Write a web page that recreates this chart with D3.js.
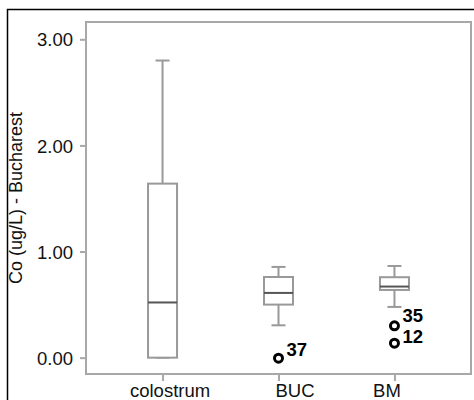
<!DOCTYPE html>
<html><head><meta charset="utf-8">
<script src="https://cdn.jsdelivr.net/npm/d3@7"></script>
<style>html,body{margin:0;padding:0;background:#fff;overflow:hidden}</style>
</head><body>
<svg id="c" width="474" height="400"></svg>
<script>
// ---- data ----
const categories = ["colostrum", "BUC", "BM"];
const whiskerLow  = [0.00, 0.305, 0.478];
const q1          = [0.00, 0.50, 0.638];
const median      = [0.52, 0.61, 0.67];
const q3          = [1.64, 0.76, 0.758];
const whiskerHigh = [2.80, 0.855, 0.864];
const outlierGroup = ["BUC", "BM", "BM"];
const outlierValue = [-0.005, 0.30, 0.136];
const outlierLabel = ["37", "35", "12"];
const yTicks = [0, 1, 2, 3];
const yTickLabels = ["0.00", "1.00", "2.00", "3.00"];
const yTitle = "Co (ug/L) - Bucharest";

// ---- layout (not data) ----
const outlierLabelDx = [8, 8, 8];
const outlierLabelDy = [-2.5, -3.5, -0.5];
const xLabelDx = [7, 16, -8];
const FONT = "Liberation Sans, Arial, sans-serif";

const svg = d3.select("#c");
const L = 86, R = 471, T = 22, B = 374;
const x = d3.scalePoint().domain(categories).range([L, R]).padding(0.66);
const y = d3.scaleLinear().domain([-0.154, 3.163]).range([B, T]);

// outer black frame
svg.append("rect").attr("x", 7.5).attr("y", 9.5).attr("width", 480).attr("height", 400)
  .attr("fill", "none").attr("stroke", "#000").attr("stroke-width", 1.5);

// plot frame
svg.append("rect").attr("x", L).attr("y", T).attr("width", R - L).attr("height", B - T)
  .attr("fill", "none").attr("stroke", "#a8a8a8").attr("stroke-width", 2);

// y axis
const yAxis = d3.axisLeft(y).tickValues(yTicks).tickSize(6).tickPadding(7)
  .tickFormat((d, i) => yTickLabels[i]);
const gy = svg.append("g").attr("transform", `translate(${L},0)`).call(yAxis);
gy.select(".domain").remove();
gy.selectAll(".tick line").attr("stroke", "#a8a8a8").attr("stroke-width", 2);
gy.selectAll(".tick text").attr("font-family", FONT)
  .attr("font-size", 18.5).attr("fill", "#111").attr("dy", "0.36em");

// x axis
const xAxis = d3.axisBottom(x).tickSize(7).tickPadding(3);
const gx = svg.append("g").attr("transform", `translate(0,${B})`).call(xAxis);
gx.select(".domain").remove();
gx.selectAll(".tick line").attr("stroke", "#a8a8a8").attr("stroke-width", 2);
gx.selectAll(".tick text").attr("font-family", FONT)
  .attr("font-size", 18.5).attr("fill", "#111").attr("dy", "0.7em")
  .attr("dx", (d, i) => xLabelDx[i]);

// y title
svg.append("text").attr("transform", `translate(22,198) rotate(-90)`)
  .attr("text-anchor", "middle").attr("font-family", FONT)
  .attr("font-size", 18).attr("fill", "#111").text(yTitle);

// boxes
const bw = 29, cw = 14;
const boxes = categories.map((c, i) => ({c, lo: whiskerLow[i], q1: q1[i], med: median[i], q3: q3[i], hi: whiskerHigh[i]}));
const g = svg.append("g");
boxes.forEach(b => {
  const cx = x(b.c);
  const gg = g.append("g").attr("stroke", "#999").attr("stroke-width", 2).attr("fill", "none");
  gg.append("line").attr("x1", cx).attr("x2", cx).attr("y1", y(b.q3)).attr("y2", y(b.hi));
  gg.append("line").attr("x1", cx).attr("x2", cx).attr("y1", y(b.q1)).attr("y2", y(b.lo));
  gg.append("line").attr("x1", cx - cw / 2).attr("x2", cx + cw / 2).attr("y1", y(b.hi)).attr("y2", y(b.hi));
  gg.append("line").attr("x1", cx - cw / 2).attr("x2", cx + cw / 2).attr("y1", y(b.lo)).attr("y2", y(b.lo));
  gg.append("rect").attr("x", cx - bw / 2).attr("y", y(b.q3)).attr("width", bw)
    .attr("height", y(b.q1) - y(b.q3)).attr("fill", "#fff");
  g.append("line").attr("x1", cx - bw / 2).attr("x2", cx + bw / 2).attr("y1", y(b.med)).attr("y2", y(b.med))
    .attr("stroke", "#555").attr("stroke-width", 2);
});

// outliers
outlierValue.forEach((v, i) => {
  const cx = x(outlierGroup[i]), cy = y(v);
  svg.append("circle").attr("cx", cx).attr("cy", cy).attr("r", 4)
    .attr("fill", "none").attr("stroke", "#000").attr("stroke-width", 3);
  svg.append("text").attr("x", cx + outlierLabelDx[i]).attr("y", cy + outlierLabelDy[i])
    .attr("font-family", FONT).attr("font-weight", "bold")
    .attr("font-size", 18.5).attr("fill", "#000").text(outlierLabel[i]);
});
</script>
</body></html>
